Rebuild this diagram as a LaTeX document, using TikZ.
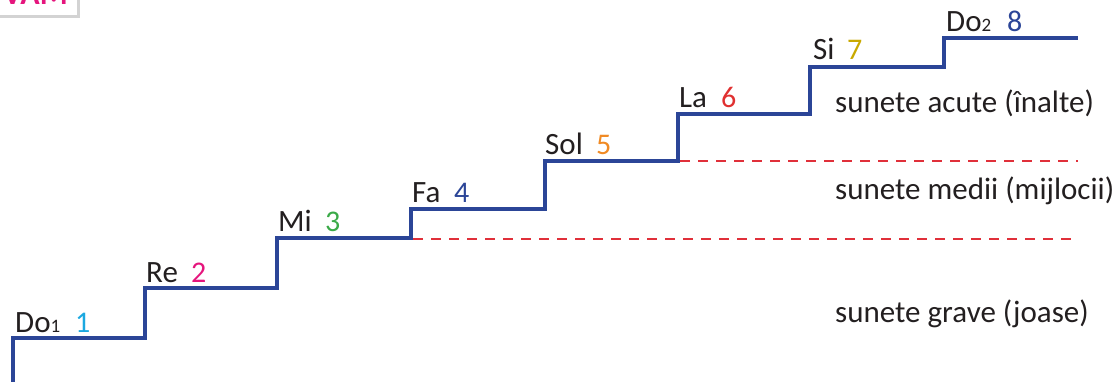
\documentclass[tikz,border=0pt]{standalone}
\usepackage{fontspec}
\setmainfont{Carlito}
\usetikzlibrary{shadows}
\definecolor{stairblue}{HTML}{2B4597}
\definecolor{dashred}{HTML}{E0303A}
\definecolor{cOne}{HTML}{1BA8E0}
\definecolor{cTwo}{HTML}{E5157D}
\definecolor{cThree}{HTML}{3BAA48}
\definecolor{cFour}{HTML}{2B4597}
\definecolor{cFive}{HTML}{F08A24}
\definecolor{cSix}{HTML}{E03030}
\definecolor{cSeven}{HTML}{C9A900}
\definecolor{cEight}{HTML}{2B4597}
\definecolor{txt}{HTML}{231F20}
\definecolor{pinkhead}{HTML}{E5157D}
\tikzset{
  stair/.style={draw=stairblue,line width=3.4pt,line join=miter},
  limit/.style={draw=dashred,line width=1.8pt,dash pattern=on 10pt off 8pt},
  note/.style={anchor=base west,inner sep=0pt,text=txt,font=\fontsize{31}{36}\selectfont},
  num/.style={anchor=base west,inner sep=0pt,font=\fontsize{30}{36}\selectfont},
  region/.style={anchor=base west,inner sep=0pt,text=txt,font=\fontsize{31}{36}\selectfont},
}
\newcommand{\subdig}[1]{{\fontsize{19}{20}\selectfont #1}}
\begin{document}
\begin{tikzpicture}[x=1pt,y=-1pt]
\useasboundingbox (0,0) rectangle (1116,382);
\clip (0,0) rectangle (1116,382);
% top-left cut-off heading box
\node[draw=none,fill=white,drop shadow={shadow xshift=3pt,shadow yshift=-3pt,opacity=0.35},
      minimum width=100pt,minimum height=40pt,inner sep=0pt,anchor=south east] (head) at (77,15) {};
\node[anchor=base east,inner sep=0pt,text=pinkhead,font=\bfseries\fontsize{32}{36}\selectfont] (headtxt) at (68,5) {VAM};
% stair corners
\coordinate (s0) at (13,382);
\coordinate (a1) at (13,338);   \coordinate (b1) at (145,338);
\coordinate (a2) at (145,288);  \coordinate (b2) at (277,288);
\coordinate (a3) at (277,238);  \coordinate (b3) at (411,238);
\coordinate (a4) at (411,209);  \coordinate (b4) at (545,209);
\coordinate (a5) at (545,161);  \coordinate (b5) at (678,161);
\coordinate (a6) at (678,114);  \coordinate (b6) at (810,114);
\coordinate (a7) at (810,67);   \coordinate (b7) at (944,67);
\coordinate (a8) at (944,38);   \coordinate (b8) at (1078,38);
% dashed limits
\coordinate (d1s) at (680,161); \coordinate (d1e) at (1078,161);
\coordinate (d2s) at (413,239); \coordinate (d2e) at (1078,239);
\draw[limit] (d1s) -- (d1e);
\draw[limit] (d2s) -- (d2e);
% staircase
\draw[stair] (s0) -- (a1) -- (b1) -- (a2) -- (b2) -- (a3) -- (b3) -- (a4) -- (b4)
  -- (a5) -- (b5) -- (a6) -- (b6) -- (a7) -- (b7) -- (a8) -- (b8);
% note names
\node[note] (n1) at (15,332) {Do\subdig{1}};
\node[num,text=cOne] (k1) at (75,332) {1};
\node[note] (n2) at (146,282) {Re};
\node[num,text=cTwo] (k2) at (191,282) {2};
\node[note] (n3) at (278,232) {Mi};
\node[num,text=cThree] (k3) at (325,232) {3};
\node[note] (n4) at (412,203) {Fa};
\node[num,text=cFour] (k4) at (454,203) {4};
\node[note] (n5) at (545,155) {Sol};
\node[num,text=cFive] (k5) at (596,155) {5};
\node[note] (n6) at (679,108) {La};
\node[num,text=cSix] (k6) at (721,108) {6};
\node[note] (n7) at (813,60) {Si};
\node[num,text=cSeven] (k7) at (847,60) {7};
\node[note] (n8) at (946,32) {Do\subdig{2}};
\node[num,text=cEight] (k8) at (1007,32) {8};
% regions
\node[region] (r1) at (835,113) {sunete acute (înalte)};
\node[region] (r2) at (835,200) {sunete medii (mijlocii)};
\node[region] (r3) at (835,322) {sunete grave (joase)};
\end{tikzpicture}
\end{document}
